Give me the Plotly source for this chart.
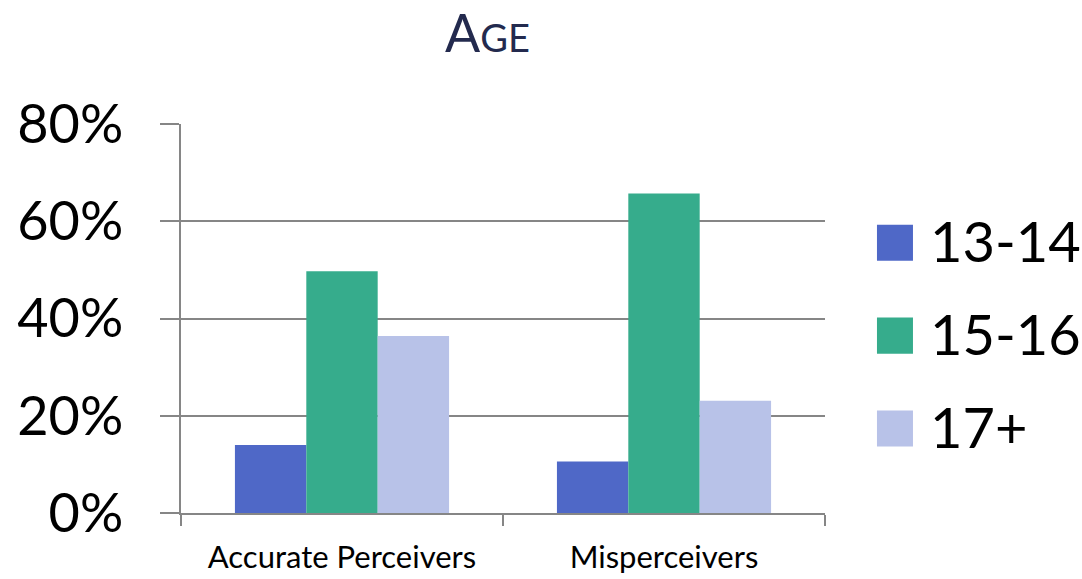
import plotly.graph_objects as go

# Survey results by age group
categories = ["Accurate Perceivers", "Misperceivers"]
age_groups = ["13-14", "15-16", "17+"]
share_13_14 = [0.14, 0.106]
share_15_16 = [0.497, 0.657]
share_17_plus = [0.364, 0.231]
y_ticks = [0, 0.2, 0.4, 0.6, 0.8]
y_tick_text = ["0%", "20%", "40%", "60%", "80%"]

series = [share_13_14, share_15_16, share_17_plus]
colors = ["#4F68C7", "#36AC8C", "#B8C2E8"]
FONT = "Lato"
GRID = "#868686"

fig = go.Figure()
for name, vals, col in zip(age_groups, series, colors):
    fig.add_trace(go.Bar(
        x=categories, y=vals, name=name,
        marker=dict(color=col, line=dict(width=0)),
        showlegend=False,
    ))

# Legend drawn as large swatches with labels (paper coords of the plot area)
legend_top = 0.695
legend_step = 0.239
half = 0.0463
for i, (name, col) in enumerate(zip(age_groups, colors)):
    yc = legend_top - i * legend_step
    fig.add_shape(type="rect", xref="paper", yref="paper",
                  x0=1.0807, x1=1.1366, y0=yc - half, y1=yc + half,
                  fillcolor=col, line=dict(width=0))
    fig.add_annotation(x=1.160, y=yc + 0.006, xref="paper", yref="paper",
                       text=name, showarrow=False, xanchor="left", yanchor="middle",
                       font=dict(family=FONT, size=56, color="#000000"))

# Title in small caps
fig.add_annotation(
    x=(487 - 181) / (825 - 181), y=1.0, xref="paper", yref="paper",
    yanchor="bottom", yshift=60, borderpad=0,
    text="A<span style='font-size:38px'>GE</span>",
    showarrow=False,
    font=dict(family=FONT, size=52, color="#232A4E"),
)

fig.update_layout(
    width=1082, height=579,
    margin=dict(l=181, r=257, t=124, b=66),
    plot_bgcolor="white", paper_bgcolor="white",
    barmode="group", bargap=0.335, bargroupgap=0,
    font=dict(family=FONT, color="#000000"),
)
fig.update_xaxes(
    automargin=False,
    showline=True, linecolor=GRID, linewidth=2,
    ticks="outside", tickson="boundaries", ticklen=11, tickwidth=2, tickcolor=GRID,
    tickfont=dict(family=FONT, size=31, color="#000000"),
    ticklabelstandoff=16,
    showgrid=False,
)
fig.update_yaxes(
    automargin=False,
    range=[0, 0.8], tickvals=y_ticks, ticktext=y_tick_text,
    showline=True, linecolor=GRID, linewidth=2,
    ticks="outside", ticklen=19, tickwidth=2, tickcolor=GRID,
    showgrid=True, gridcolor=GRID, gridwidth=2, zeroline=False,
    tickfont=dict(family=FONT, size=54, color="#000000"),
    ticklabelstandoff=26,
)

fig.write_html("out.html")
